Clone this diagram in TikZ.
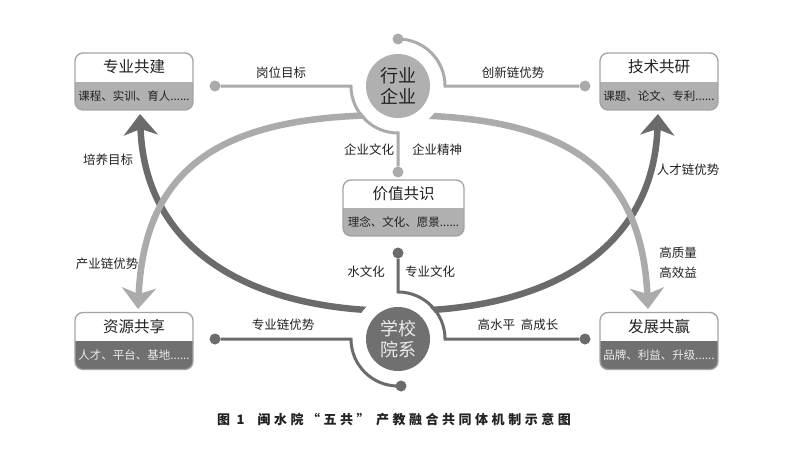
\documentclass[tikz,border=0pt]{standalone}
\usepackage{fontspec}
\setmainfont{Noto Sans CJK SC}
\newfontfamily\capfont[LetterSpace=27]{Noto Sans CJK SC}
\usetikzlibrary{arrows.meta,positioning,calc}

\definecolor{arcdark}{HTML}{6B6B6B}
\definecolor{arclight}{HTML}{ABABAB}
\definecolor{boxline}{HTML}{A3A3A3}
\definecolor{partlight}{HTML}{B0B0B0}
\definecolor{partdark}{HTML}{707070}
\definecolor{txt}{HTML}{222222}

\begin{document}
\begin{tikzpicture}[x=1pt,y=-1pt,
  box/.style={draw=boxline, line width=1.3pt, rounded corners=8pt, minimum width=118pt, minimum height=57pt, fill=white,
    path picture={\fill[#1, sharp corners] (path picture bounding box.west) rectangle (path picture bounding box.south east);}},
  boxtitle/.style={font=\fontsize{15.5}{18}\selectfont, text=txt, inner sep=0pt},
  boxsub/.style={font=\fontsize{11.5}{13}\selectfont, text=#1, inner sep=0pt},
  hub/.style={circle, fill=#1, minimum size=64pt, inner sep=0pt, align=center, font=\fontsize{18}{21.5}\selectfont},
  dot/.style={circle, fill=#1, inner sep=0pt, minimum size=11pt},
  ring/.style={draw=#1, line width=3pt},
  lbl/.style={font=\fontsize{12.5}{20}\selectfont, text=txt, inner sep=1pt, align=center},
  bigarrow/.style={draw=#1, line width=6.5pt, {Stealth[length=21pt, width=34pt, inset=6pt]}-{Stealth[length=21pt, width=34pt, inset=6pt]}}]

\fill[white] (0,0) rectangle (802,452);
\useasboundingbox (0,0) rectangle (802,452);

% hub centres
\coordinate (hy-c) at (398,86);
\coordinate (xx-c) at (398,339);

% the two big arcs
\coordinate (dk-l) at (140,114);
\coordinate (dk-m) at (399,311);
\coordinate (dk-r) at (658,114);
\coordinate (lt-l) at (138,309);
\coordinate (lt-m) at (393,115);
\coordinate (lt-r) at (648,309);
\draw[bigarrow=arcdark] (dk-l) .. controls (145,250) and (250,311) .. (dk-m) .. controls (548,311) and (653,250) .. (dk-r);
\draw[bigarrow=arclight] (lt-l) .. controls (145,160) and (230,115) .. (lt-m) .. controls (556,115) and (641,160) .. (lt-r);

\fill[white] (hy-c) circle[radius=45pt];
\fill[white] (xx-c) circle[radius=45pt];

% boxes
\node[box=partlight] (zyjj) at (134,81.5) {};
\node[box=partlight] (jsgy) at (659,81.5) {};
\node[box=partdark] (zygx) at (134,341) {};
\node[box=partdark] (fzgy) at (659,341) {};
\node[box=partlight, minimum width=121pt, minimum height=56pt] (jzgs) at (403.5,208) {};

\path (zyjj.north) -- (zyjj.center) node[midway, boxtitle] (zyjj-t) {专业共建};
\path (zyjj.center) -- (zyjj.south) node[midway, boxsub=txt] (zyjj-s) {课程、实训、育人......};
\path (jsgy.north) -- (jsgy.center) node[midway, boxtitle] (jsgy-t) {技术共研};
\path (jsgy.center) -- (jsgy.south) node[midway, boxsub=txt] (jsgy-s) {课题、论文、专利......};
\path (zygx.north) -- (zygx.center) node[midway, boxtitle] (zygx-t) {资源共享};
\path (zygx.center) -- (zygx.south) node[midway, boxsub=white!92!black] (zygx-s) {人才、平台、基地......};
\path (fzgy.north) -- (fzgy.center) node[midway, boxtitle] (fzgy-t) {发展共赢};
\path (fzgy.center) -- (fzgy.south) node[midway, boxsub=white!92!black] (fzgy-s) {品牌、利益、升级......};
\path (jzgs.north) -- (jzgs.center) node[midway, boxtitle] (jzgs-t) {价值共识};
\path (jzgs.center) -- (jzgs.south) node[midway, boxsub=txt] (jzgs-s) {理念、文化、愿景......};

% dots
\node[dot=arclight] (d-hy1) at (398,39) {};
\node[dot=arclight] (d-hy2) at (585,86) {};
\node[dot=arclight] (d-hy3) at (215,86) {};
\node[dot=arclight] (d-hy4) at (398,172) {};
\node[dot=arcdark] (d-xx1) at (398,253) {};
\node[dot=arcdark] (d-xx2) at (585,339) {};
\node[dot=arcdark] (d-xx3) at (215,339) {};
\node[dot=arcdark] (d-xx4) at (401,386) {};

% rings
\draw[ring=arclight] (d-hy1.center) arc[start angle=90, end angle=0, radius=47pt] -- (d-hy2);
\draw[ring=arclight] (d-hy3) -- ([xshift=-47pt]hy-c) arc[start angle=180, end angle=270, radius=47pt] -- (d-hy4);
\draw[ring=arcdark] (d-xx1) -- ([yshift=47pt]xx-c) arc[start angle=90, end angle=0, radius=47pt] -- (d-xx2);
\draw[ring=arcdark] (d-xx3) -- ([xshift=-47pt]xx-c) arc[start angle=180, end angle=270, radius=47pt] -- (d-xx4);

% hubs
\node[hub=partlight, text=txt] (hyqy) at (hy-c) {行业\\企业};
\node[hub=partdark, text=white!92!black] (xxyx) at (xx-c) {学校\\院系};

% labels
\node[lbl] (l-gw) at (281,73) {岗位目标};
\node[lbl] (l-cx) at (513,73) {创新链优势};
\node[lbl] (l-py) at (108,160) {培养目标};
\node[lbl] (l-cy) at (107,264) {产业链优势};
\node[lbl] (l-rc) at (688,170) {人才链优势};
\node[lbl] (l-gz) at (678,263) {高质量\\高效益};
\node[lbl] (l-qw) at (369,150) {企业文化};
\node[lbl] (l-qj) at (437,150) {企业精神};
\node[lbl] (l-sw) at (366,272) {水文化};
\node[lbl] (l-zw) at (430,272) {专业文化};
\node[lbl] (l-zl) at (283,325) {专业链优势};
\node[lbl] (l-gs) at (518,325) {高水平\ \ 高成长};

% caption
\node[font={\capfont\bfseries\fontsize{13}{15}\selectfont}, text=txt] (cap) at (394,420) {图\ 1\quad 闽水院“五共”\ 产教融合共同体机制示意图};
\end{tikzpicture}
\end{document}
